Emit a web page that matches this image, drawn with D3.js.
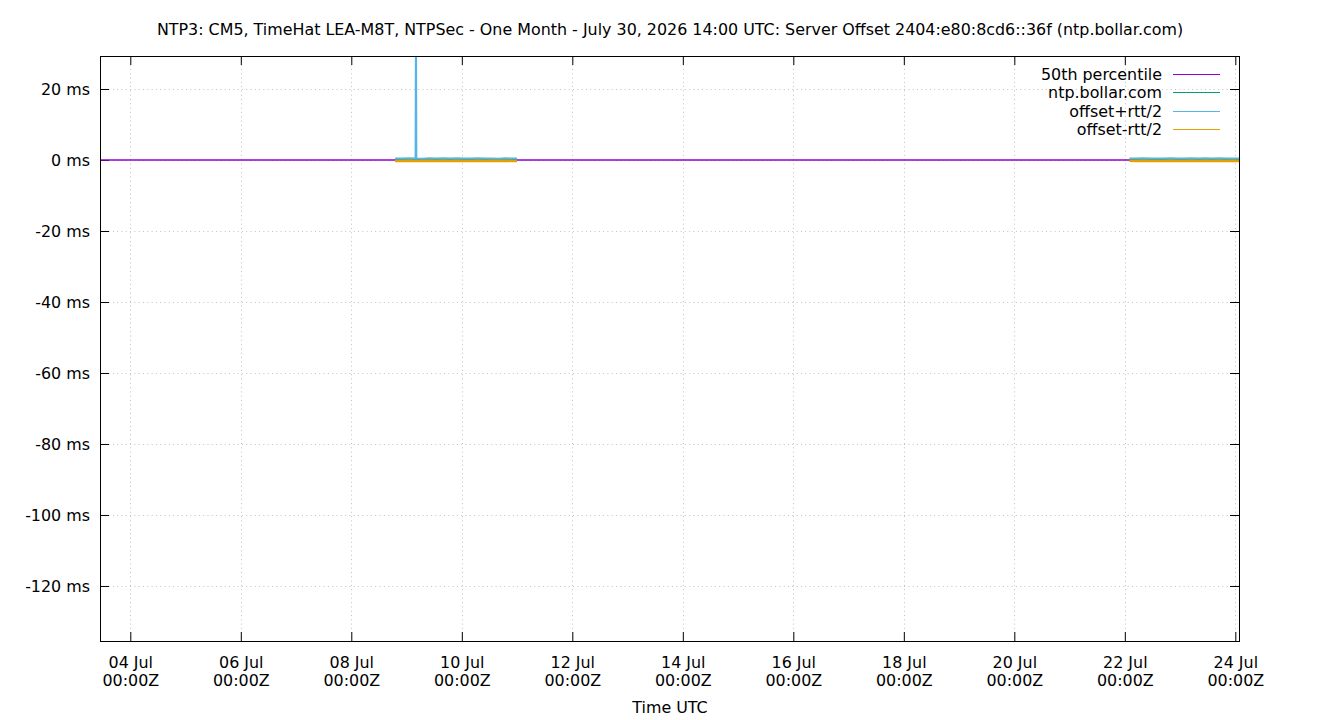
<!DOCTYPE html>
<html><head><meta charset="utf-8">
<script src="https://cdn.jsdelivr.net/npm/d3@7"></script>
<style>body{margin:0;background:#fff}svg{display:block}text{font-family:"DejaVu Sans",sans-serif;font-size:15.9px;fill:#000}</style>
</head><body>
<script>
const title = "NTP3: CM5, TimeHat LEA-M8T, NTPSec - One Month - July 30, 2026 14:00 UTC: Server Offset 2404:e80:8cd6::36f (ntp.bollar.com)";
const seriesNames = ["50th percentile", "ntp.bollar.com", "offset+rtt/2", "offset-rtt/2"];
const seriesColors = ["#9400d3", "#009e73", "#56b4e9", "#e69f00"];
const xDomain = ["2026-07-03T10:50Z", "2026-07-24T01:36Z"];
const yDomain = [-135.5, 29.3];
const yTicks = [-120, -100, -80, -60, -40, -20, 0, 20];
const xTicks = ["2026-07-04", "2026-07-06", "2026-07-08", "2026-07-10", "2026-07-12", "2026-07-14", "2026-07-16", "2026-07-18", "2026-07-20", "2026-07-22", "2026-07-24"];
const percentile50 = 0.0;

// segment 1 (Jul 8 19:00 -> Jul 11 00:00)
const seg1Times = ["2026-07-08T19:00Z","2026-07-08T22:00Z","2026-07-09T01:00Z","2026-07-09T03:55Z","2026-07-09T04:05Z","2026-07-09T04:15Z","2026-07-09T07:00Z","2026-07-09T10:00Z","2026-07-09T13:00Z","2026-07-09T16:00Z","2026-07-09T19:00Z","2026-07-09T22:00Z","2026-07-10T01:00Z","2026-07-10T04:00Z","2026-07-10T07:00Z","2026-07-10T10:00Z","2026-07-10T13:00Z","2026-07-10T16:00Z","2026-07-10T19:00Z","2026-07-10T22:00Z","2026-07-11T00:00Z"];
const seg1Offset = [0.05,0.02,0.08,0.03,0.06,0.04,0.01,0.07,0.03,0.05,0.02,0.06,0.04,0.03,0.08,0.02,0.05,0.01,0.06,0.04,0.03];
const seg1Plus   = [0.45,0.40,0.50,0.42,40.0,0.44,0.38,0.48,0.41,0.46,0.39,0.47,0.43,0.40,0.50,0.41,0.45,0.38,0.47,0.42,0.44];
const seg1Minus  = [-0.25,-0.30,-0.20,-0.28,-0.22,-0.26,-0.31,-0.21,-0.27,-0.23,-0.29,-0.20,-0.25,-0.28,-0.19,-0.30,-0.24,-0.29,-0.22,-0.26,-0.27];
// segment 2 (Jul 22 02:00 -> end)
const seg2Times = ["2026-07-22T02:00Z","2026-07-22T05:00Z","2026-07-22T08:00Z","2026-07-22T11:00Z","2026-07-22T14:00Z","2026-07-22T17:00Z","2026-07-22T20:00Z","2026-07-22T23:00Z","2026-07-23T02:00Z","2026-07-23T05:00Z","2026-07-23T08:00Z","2026-07-23T11:00Z","2026-07-23T14:00Z","2026-07-23T17:00Z","2026-07-23T20:00Z","2026-07-23T23:00Z","2026-07-24T02:00Z"];
const seg2Offset = [0.04,0.06,0.02,0.05,0.03,0.07,0.02,0.05,0.04,0.06,0.03,0.05,0.02,0.06,0.04,0.03,0.05];
const seg2Plus   = [0.46,0.42,0.48,0.40,0.45,0.43,0.49,0.41,0.44,0.47,0.40,0.46,0.42,0.48,0.43,0.45,0.44];
const seg2Minus  = [-0.24,-0.28,-0.21,-0.27,-0.25,-0.30,-0.22,-0.26,-0.29,-0.23,-0.27,-0.21,-0.28,-0.24,-0.26,-0.22,-0.25];

const W = 1340, H = 720;
const m = {l:100, r:1239, t:56, b:641};
const FS = "15.9px";
const svg = d3.select("body").append("svg").attr("width", W).attr("height", H);
const x = d3.scaleUtc().domain(xDomain.map(d => new Date(d))).range([m.l, m.r]);
const y = d3.scaleLinear().domain(yDomain).range([m.b, m.t]);

svg.append("defs").append("clipPath").attr("id","clip").append("rect")
  .attr("x", m.l).attr("y", m.t).attr("width", m.r - m.l).attr("height", m.b - m.t);

// grid
const g = svg.append("g").attr("stroke", "#c0c0c0").attr("stroke-dasharray", "1,3.3").attr("stroke-width", 1);
yTicks.forEach(v => g.append("line").attr("x1", m.l).attr("x2", m.r).attr("y1", Math.round(y(v))+0.5).attr("y2", Math.round(y(v))+0.5));
xTicks.forEach(t => { const xx = Math.round(x(new Date(t)))+0.5; g.append("line").attr("x1", xx).attr("x2", xx).attr("y1", m.t).attr("y2", m.b); });

// axes with inward ticks
const tickLen = 9;
const yAxisL = d3.axisLeft(y).tickValues(yTicks).tickSizeInner(-tickLen).tickSizeOuter(0).tickPadding(10).tickFormat(d => d + " ms");
const gy = svg.append("g").attr("transform", `translate(${m.l},0)`).call(yAxisL);
const yAxisR = d3.axisRight(y).tickValues(yTicks).tickSizeInner(-tickLen).tickSizeOuter(0).tickFormat("");
const gyr = svg.append("g").attr("transform", `translate(${m.r},0)`).call(yAxisR);
const fmtD = d3.utcFormat("%d %b");
const xAxisB = d3.axisBottom(x).tickValues(xTicks.map(t => new Date(t))).tickSizeInner(-tickLen).tickSizeOuter(0).tickFormat("");
const gx = svg.append("g").attr("transform", `translate(0,${m.b})`).call(xAxisB);
const xAxisT = d3.axisTop(x).tickValues(xTicks.map(t => new Date(t))).tickSizeInner(-tickLen).tickSizeOuter(0).tickFormat("");
const gxt = svg.append("g").attr("transform", `translate(0,${m.t})`).call(xAxisT);
[gy, gyr, gx, gxt].forEach(a => { a.select(".domain").remove(); a.selectAll("line").attr("stroke", "#000"); a.selectAll("text").style("font-size",FS).style("font-family","DejaVu Sans"); });
gy.selectAll("text").attr("dy", "0.35em");
gx.selectAll(".tick").each(function(d){
  const t = d3.select(this).append("text").attr("text-anchor","middle").attr("fill","#000").style("font-size",FS).style("font-family","DejaVu Sans");
  t.append("tspan").attr("x",0).attr("y",27).text(fmtD(d));
  t.append("tspan").attr("x",0).attr("y",45).text("00:00Z");
});

// data lines
const plot = svg.append("g").attr("clip-path", "url(#clip)");
const line = d3.line().x(d => x(d[0])).y(d => y(d[1]));
const zip = (ts, vs) => ts.map((t,i) => [new Date(t), vs[i]]);
plot.append("path").datum(x.domain().map(d => [d, percentile50])).attr("d", line).attr("fill","none").attr("stroke", seriesColors[0]).attr("stroke-width", 1.3);
[[seg1Times, seg1Offset, seg1Plus, seg1Minus], [seg2Times, seg2Offset, seg2Plus, seg2Minus]].forEach(([ts, o, p, mn]) => {
  plot.append("path").datum(zip(ts,o)).attr("d", line).attr("fill","none").attr("stroke", seriesColors[1]).attr("stroke-width", 2);
  plot.append("path").datum(zip(ts,p)).attr("d", line).attr("fill","none").attr("stroke", seriesColors[2]).attr("stroke-width", 2);
  plot.append("path").datum(zip(ts,mn)).attr("d", line).attr("fill","none").attr("stroke", seriesColors[3]).attr("stroke-width", 2.5);
});

// border
svg.append("rect").attr("x", m.l+0.5).attr("y", m.t+0.5).attr("width", m.r-m.l).attr("height", m.b-m.t).attr("fill","none").attr("stroke","#000").attr("stroke-width",1);

// legend
const legY = [74, 92, 111, 129];
seriesNames.forEach((n,i) => {
  svg.append("text").attr("x", 1162).attr("y", legY[i]).attr("dy","0.35em").attr("text-anchor","end").text(n);
  svg.append("line").attr("x1", 1173).attr("x2", 1220).attr("y1", legY[i]+0.5).attr("y2", legY[i]+0.5).attr("stroke", seriesColors[i]).attr("stroke-width", 1.2);
});

// titles
svg.append("text").attr("x", 670).attr("y", 29).attr("dy","0.35em").attr("text-anchor","middle").text(title);
svg.append("text").attr("x", 670).attr("y", 707).attr("dy","0.35em").attr("text-anchor","middle").text("Time UTC");
</script>
</body></html>
